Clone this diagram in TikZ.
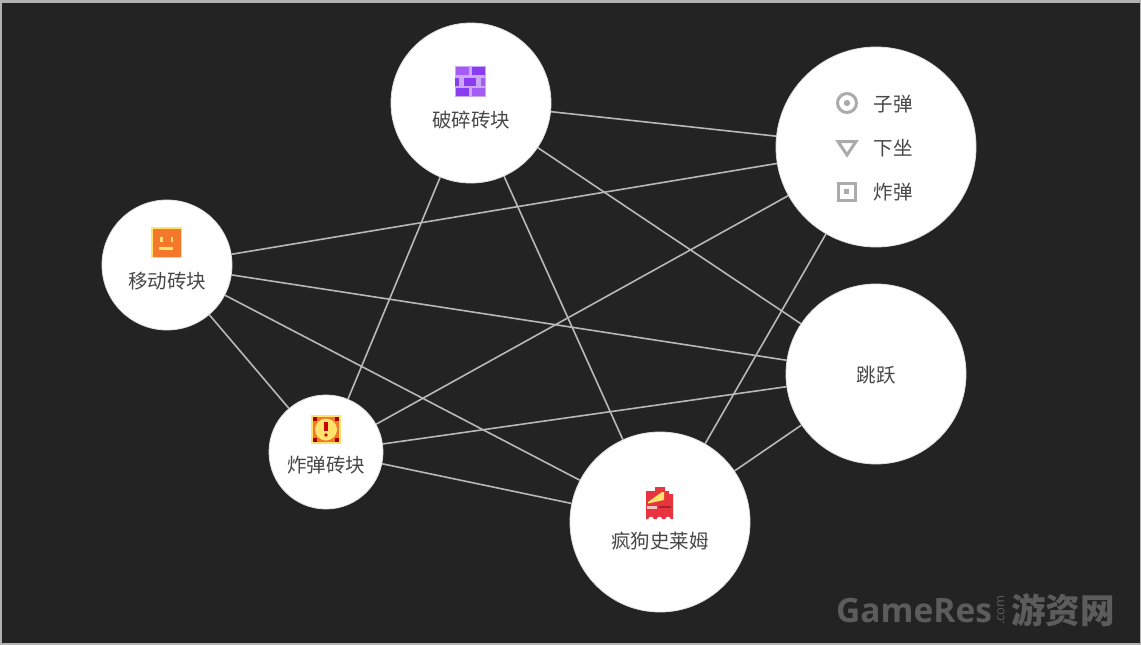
\documentclass[tikz,border=0pt]{standalone}
\usepackage{fontspec}
\setmainfont{Noto Sans CJK SC}
\newfontfamily\latinfont{Open Sans}
\usetikzlibrary{positioning}
\definecolor{bgdark}{HTML}{232323}
\definecolor{wmgray}{HTML}{5C5C5C}
\definecolor{iconpurple}{HTML}{8A3CF0}
\definecolor{iconpurplelt}{HTML}{A45CF5}
\definecolor{iconorange}{HTML}{F4782C}
\definecolor{iconyellow}{HTML}{FFE36A}
\definecolor{iconred}{HTML}{E8343F}
\definecolor{icongray}{HTML}{ABABAB}
\begin{document}
\begin{tikzpicture}[x=1pt,y=-1pt,
  bubble/.style={circle,fill=white,draw=gray!25,line width=0.8pt,inner sep=0pt},
  lbl/.style={text=black!72,font=\fontsize{19.5}{20}\selectfont,inner sep=0pt},
  link/.style={draw=black!28,line width=1.6pt}]

\useasboundingbox (0,0) rectangle (1141,645);
\fill[white!70!black] (0,0) rectangle (1141,645);
\fill[bgdark] (2,3) rectangle (1140,643);

\node[bubble,minimum size=160] (brick) at (471,103) {};
\node[bubble,minimum size=200] (weapon) at (876,147) {};
\node[bubble,minimum size=130] (move) at (167,265) {};
\node[bubble,minimum size=114] (bomb) at (326,452) {};
\node[bubble,minimum size=180] (slime) at (660,522) {};
\node[bubble,minimum size=180] (jump) at (876,374) {};

\foreach \a/\b in {brick/weapon,brick/jump,brick/slime,brick/bomb,
    move/weapon,move/jump,move/bomb,move/slime,
    bomb/weapon,bomb/jump,bomb/slime,
    slime/weapon,slime/jump}
  \draw[link] (\a) -- (\b);

\node[lbl] (bricktext) at (471,120) {破碎砖块};
\node[lbl] (movetext) at (167,281) {移动砖块};
\node[lbl] (bombtext) at (326,465) {炸弹砖块};
\node[lbl] (slimetext) at (660,541) {疯狗史莱姆};
\node[lbl] (jumptext) at (876,375) {跳跃};
\node[lbl] (bullet) at (893,104) {子弹};
\node[lbl] (recoil) at (893,148) {下坐};
\node[lbl] (grenade) at (893,192) {炸弹};

% brick icon
\fill[iconpurple!45] (455,66) rectangle (486,97);
\foreach \x/\w/\y/\c in {456/13/67/iconpurplelt,472/13/67/iconpurple,
    455/4/78/iconpurple,464/12/78/iconpurple,481/4/78/iconpurplelt,
    456/13/88/iconpurple,472/13/88/iconpurplelt}
  \fill[\c] (\x,\y) rectangle ++(\w,8);

% face icon
\fill[iconyellow] (151,227) rectangle (182,258);
\fill[iconorange] (152.5,228.5) rectangle (180.5,256.5);
\fill[iconyellow] (160,237) rectangle (162.5,242);
\fill[iconyellow] (170.5,237) rectangle (173,242);
\fill[iconyellow] (159,247) rectangle (173,249.5);

% bomb icon
\fill[iconyellow] (311,415) rectangle (341,444);
\fill[iconorange] (313,417) rectangle (339,442);
\foreach \x/\y in {313/417,335/417,313/438,335/438}
  \fill[red!65!black] (\x,\y) rectangle ++(4,4);
\fill[iconyellow] (326,429.5) circle (11);
\fill[red!80!black] (324.3,422) rectangle (327.7,431);
\fill[red!80!black] (326,435) circle (1.9);

% slime icon
\fill[iconred] (646,491) -- (655,491) -- (655,487) -- (665,487) -- (665,491)
  -- (669,491) -- (669,494) -- (673,494) -- (673,519) -- (646,519) -- cycle;
\foreach \x in {651,659.5,668}
  \fill[white] (\x,519.5) circle (2.8);
\fill[iconyellow] (648,502) -- (655,497) -- (662,492) -- (664,492) -- (664,500) -- (648,503.5) -- cycle;
\fill[white!70!iconred] (647,506) rectangle (657,508.5);
\fill[iconred!70!black] (659,506) rectangle (671,508);

% weapon icons
\draw[icongray,line width=3pt] (847,103) circle (9.5);
\fill[icongray] (847,103) circle (3.2);
\draw[icongray,line width=3pt] (838,141.5) -- (856,141.5) -- (847,155) -- cycle;
\draw[icongray,line width=3pt] (838.5,183.5) rectangle (855,200);
\fill[icongray] (844.2,189.2) rectangle (849.3,194.3);

% watermark
\node[inner sep=0pt,anchor=west,text=wmgray,font=\latinfont\bfseries\fontsize{33.5}{34}\selectfont] (wmlatin) at (836,611) {GameRes};
\node[inner sep=0pt,text=wmgray,rotate=90,font=\latinfont\fontsize{13}{13}\selectfont] (wmcom) at (1001,610) {.com};
\node[inner sep=0pt,anchor=west,text=wmgray,font=\bfseries\fontsize{34.5}{35}\selectfont] (wmcjk) at (1011,610) {游资网};

\end{tikzpicture}
\end{document}
